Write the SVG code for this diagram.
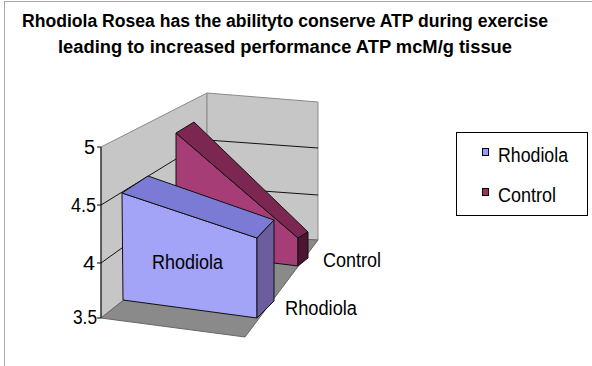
<svg xmlns="http://www.w3.org/2000/svg" width="592" height="366" viewBox="0 0 592 366">
<style>
text{font-family:"Liberation Sans",Arial,sans-serif;fill:#000}
.t{font-weight:bold;font-size:18px}
.l{font-size:20px}
.wall{fill:#c6c6c6;stroke:#8a8a8a;stroke-width:1}
.floor{fill:#8a8a8a;stroke:#666;stroke-width:1}
.grid{stroke:#111;stroke-width:1;fill:none}
.edge{stroke:#111;stroke-width:1;stroke-linejoin:round}
</style>
<rect width="592" height="366" fill="#fff"/>
<g id="frame">
<line x1="4.5" y1="1" x2="4.5" y2="366" stroke="#aaa" stroke-width="1"/>
<line x1="4" y1="1.5" x2="592" y2="1.5" stroke="#aaa" stroke-width="1"/>
</g>
<g id="title">
<text class="t" x="22" y="27" textLength="526" lengthAdjust="spacingAndGlyphs">Rhodiola Rosea has the abilityto conserve ATP during exercise</text>
<text class="t" x="58" y="53" textLength="454" lengthAdjust="spacingAndGlyphs">leading to increased performance ATP mcM/g tissue</text>
</g>
<g id="walls">
<polygon class="wall" points="101,147 207,93 207,234 101,318"/>
<polygon class="wall" points="207,93 318,102 318,240 207,234"/>
<polygon class="floor" points="101,318 207,234 318,240 245,337"/>
</g>
<g id="gridlines">
<polyline class="grid" points="101,205 207,140 318,148"/>
<polyline class="grid" points="101,263 207,187 318,195"/>
</g>
<g id="axis">
<line x1="101" y1="147" x2="101" y2="318" stroke="#000"/>
<path d="M97 147H101M97 205H101M97 263H101M97 318H101" stroke="#000"/>
<text class="l" x="95" y="154" text-anchor="end" textLength="11" lengthAdjust="spacingAndGlyphs">5</text>
<text class="l" x="96" y="212" text-anchor="end" textLength="25" lengthAdjust="spacingAndGlyphs">4.5</text>
<text class="l" x="95" y="270" text-anchor="end" textLength="12" lengthAdjust="spacingAndGlyphs">4</text>
<text class="l" x="97" y="324" text-anchor="end" textLength="24" lengthAdjust="spacingAndGlyphs">3.5</text>
</g>
<g id="bar-control">
<polygon class="edge" fill="#a63d77" points="176,133 298,238 298,266 176,251"/>
<polygon class="edge" fill="#7c2752" points="176,133 194,122 308,232 298,238"/>
<polygon class="edge" fill="#4d1532" points="298,238 308,232 308,258 298,266"/>
</g>
<g id="bar-rhodiola">
<polygon class="edge" fill="#a3a3f8" points="122,193 257,238 257,318 123,300"/>
<polygon class="edge" fill="#7b7bd6" points="122,193 148,176 274,220 257,238"/>
<polygon class="edge" fill="#6c5e9e" points="257,238 274,220 274,301 257,318"/>
<text class="l" x="152" y="269" textLength="71" lengthAdjust="spacingAndGlyphs">Rhodiola</text>
</g>
<g id="category-labels">
<text class="l" x="323" y="267" textLength="58" lengthAdjust="spacingAndGlyphs">Control</text>
<text class="l" x="285" y="315" textLength="72" lengthAdjust="spacingAndGlyphs">Rhodiola</text>
</g>
<g id="legend">
<rect x="456.5" y="132.5" width="131" height="83" fill="#fff" stroke="#000"/>
<rect x="482.5" y="148.5" width="6" height="7" fill="#9999ff" stroke="#000"/>
<text class="l" x="498" y="162" textLength="70" lengthAdjust="spacingAndGlyphs">Rhodiola</text>
<rect x="482.5" y="188.5" width="6" height="7" fill="#993366" stroke="#000"/>
<text class="l" x="498" y="202" textLength="58" lengthAdjust="spacingAndGlyphs">Control</text>
</g>
</svg>
